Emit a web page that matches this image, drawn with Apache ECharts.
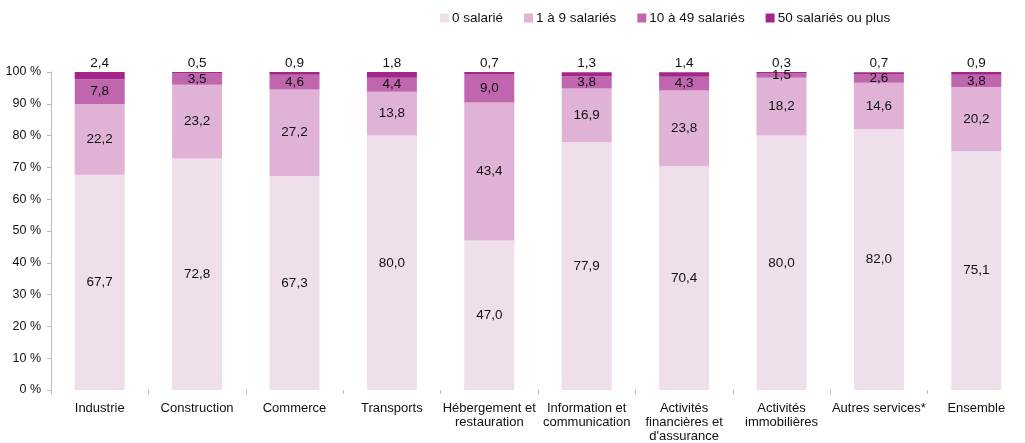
<!DOCTYPE html>
<html>
<head>
<meta charset="utf-8">
<script src="https://cdn.jsdelivr.net/npm/echarts@6/dist/echarts.min.js"></script>
<style>
  html, body { margin: 0; padding: 0; background: #fff; }
  #chart { width: 1025px; height: 443px; }
</style>
</head>
<body>
<div id="chart"></div>
<script>
// secteurs
const categories = [
  'Industrie', 'Construction', 'Commerce', 'Transports',
  'Hébergement et\nrestauration', 'Information et\ncommunication',
  'Activités\nfinancières et\nd\'assurance', 'Activités\nimmobilières',
  'Autres services*', 'Ensemble'
]
// parts en % par taille
const zeroSalarie = [67.7, 72.8, 67.3, 80.0, 47.0, 77.9, 70.4, 80.0, 82.0, 75.1]
const unANeuf = [22.2, 23.2, 27.2, 13.8, 43.4, 16.9, 23.8, 18.2, 14.6, 20.2]
const dixA49 = [7.8, 3.5, 4.6, 4.4, 9.0, 3.8, 4.3, 1.5, 2.6, 3.8]
const cinquantePlus = [2.4, 0.5, 0.9, 1.8, 0.7, 1.3, 1.4, 0.3, 0.7, 0.9]
const yTicks = [0, 10, 20, 30, 40, 50, 60, 70, 80, 90, 100]

const fmt = p => p.value.toFixed(1).replace('.', ',')
const font = 'Liberation Sans, Arial, sans-serif'

const chart = echarts.init(document.getElementById('chart'))

function serie(name, data, color, pos) {
  return {
    name: name,
    type: 'bar',
    stack: 'total',
    barWidth: 50,
    data: data,
    itemStyle: { color: color },
    label: {
      show: true,
      position: pos,
      formatter: fmt,
      color: '#111',
      fontSize: 13.5,
      fontFamily: font,
      distance: 2
    }
  }
}

const option = {
  animation: false,
  textStyle: { fontFamily: font },
  legend: {
    top: 6,
    left: 435,
    itemWidth: 9,
    itemHeight: 9,
    itemGap: 21,
    icon: 'rect',
    textStyle: { fontSize: 13.5, color: '#111', fontFamily: font, padding: [0, 0, 0, -2] },
    data: ['0 salarié', '1 à 9 salariés', '10 à 49 salariés', '50 salariés ou plus']
  },
  grid: { left: 51, right: -11, top: 72, bottom: 50 },
  xAxis: {
    type: 'category',
    data: categories,
    axisLine: { show: false },
    axisTick: { show: true, length: 4, lineStyle: { color: '#bbb' } },
    axisLabel: { interval: 0, color: '#111', fontSize: 13, fontFamily: font, margin: 11, lineHeight: 14 }
  },
  yAxis: {
    type: 'value',
    min: yTicks[0],
    max: yTicks[yTicks.length - 1],
    interval: 10,
    splitLine: { show: false },
    axisLine: { show: true, lineStyle: { color: '#bbb' } },
    axisTick: { show: true, length: 4, lineStyle: { color: '#bbb' } },
    axisLabel: { color: '#111', fontSize: 12.5, fontFamily: font, margin: 10, formatter: v => v + ' %' }
  },
  series: [
    serie('0 salarié', zeroSalarie, '#eedfeb', 'inside'),
    serie('1 à 9 salariés', unANeuf, '#e0b3d6', 'inside'),
    serie('10 à 49 salariés', dixA49, '#c066ae', 'inside'),
    serie('50 salariés ou plus', cinquantePlus, '#a3268d', 'top')
  ]
}
chart.setOption(option)
</script>
</body>
</html>
